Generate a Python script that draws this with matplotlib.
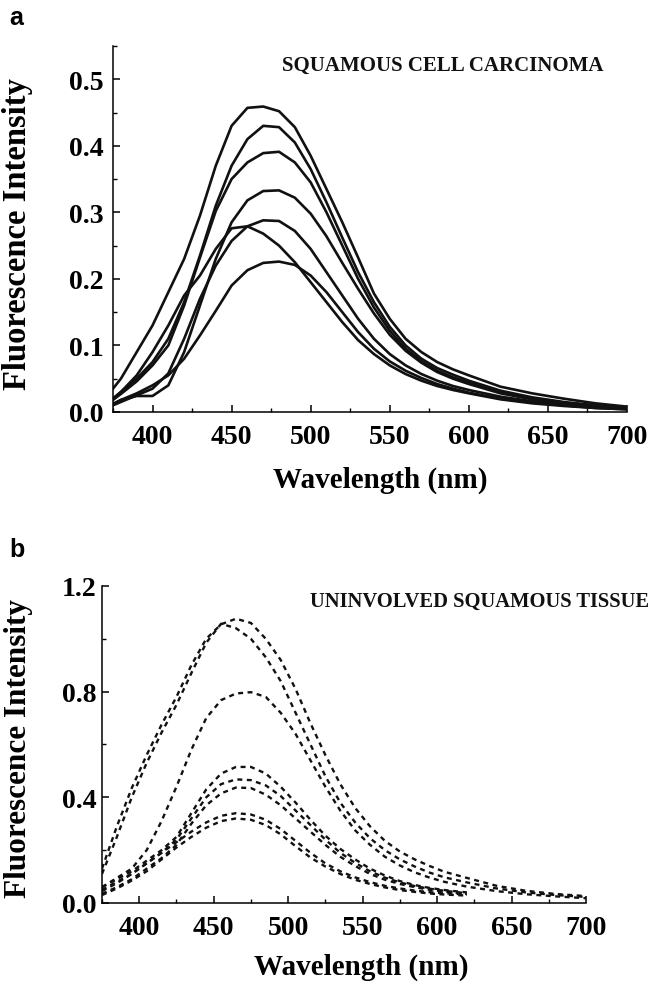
import matplotlib
matplotlib.use("Agg")
import matplotlib.pyplot as plt
from matplotlib.ticker import MultipleLocator, FormatStrFormatter

# ---------------- data: panel a (squamous cell carcinoma) ----------------
wl_a = [375, 380, 390, 400, 410, 420, 430, 440, 450, 460, 470, 480, 490, 500,
        510, 520, 530, 540, 550, 560, 570, 580, 590, 600, 620, 640, 660, 680, 700]

scc_1 = [0.035, 0.05, 0.09, 0.13, 0.18, 0.23, 0.295, 0.37, 0.43, 0.457, 0.459, 0.452, 0.428, 0.385,
         0.335, 0.285, 0.232, 0.178, 0.14, 0.11, 0.09, 0.075, 0.064, 0.055, 0.038, 0.028, 0.02, 0.013, 0.008]
scc_2 = [0.02, 0.03, 0.05, 0.075, 0.11, 0.165, 0.235, 0.31, 0.37, 0.41, 0.43, 0.428, 0.405, 0.365,
         0.315, 0.262, 0.21, 0.165, 0.128, 0.1, 0.08, 0.066, 0.056, 0.047, 0.032, 0.022, 0.015, 0.01, 0.006]
scc_3 = [0.018, 0.027, 0.046, 0.07, 0.1, 0.16, 0.232, 0.302, 0.35, 0.375, 0.389, 0.391, 0.375, 0.345,
         0.3, 0.25, 0.2, 0.157, 0.122, 0.095, 0.076, 0.062, 0.052, 0.044, 0.03, 0.021, 0.014, 0.009, 0.006]
scc_4 = [0.012, 0.018, 0.024, 0.024, 0.04, 0.09, 0.16, 0.23, 0.285, 0.318, 0.332, 0.333, 0.322, 0.298,
         0.264, 0.224, 0.185, 0.148, 0.116, 0.092, 0.074, 0.06, 0.05, 0.042, 0.028, 0.019, 0.013, 0.008, 0.005]
scc_5 = [0.01, 0.015, 0.025, 0.035, 0.058, 0.11, 0.17, 0.22, 0.257, 0.279, 0.288, 0.287, 0.272, 0.245,
         0.21, 0.175, 0.14, 0.11, 0.087, 0.07, 0.057, 0.047, 0.039, 0.033, 0.023, 0.016, 0.011, 0.007, 0.005]
scc_6 = [0.02, 0.03, 0.055, 0.09, 0.13, 0.175, 0.205, 0.245, 0.276, 0.279, 0.268, 0.25, 0.225, 0.195,
         0.165, 0.135, 0.108, 0.087, 0.07, 0.057, 0.047, 0.039, 0.033, 0.028, 0.019, 0.013, 0.009, 0.006, 0.004]
scc_7 = [0.012, 0.018, 0.028, 0.04, 0.055, 0.08, 0.115, 0.152, 0.19, 0.213, 0.224, 0.226, 0.221, 0.205,
         0.18, 0.15, 0.12, 0.095, 0.076, 0.062, 0.051, 0.042, 0.035, 0.029, 0.02, 0.014, 0.01, 0.006, 0.004]
scc_curves = [scc_1, scc_2, scc_3, scc_4, scc_5, scc_6, scc_7]

# ---------------- data: panel b (uninvolved squamous tissue) ----------------
wl_b = [375, 385, 395, 405, 415, 425, 435, 445, 455, 465, 475, 485, 495, 505,
        515, 525, 535, 545, 555, 565, 575, 585, 595, 605, 620, 640, 660, 680, 700]

ust_1 = [0.13, 0.29, 0.435, 0.56, 0.675, 0.78, 0.9, 1.0, 1.055, 1.076, 1.06, 1.0, 0.92, 0.81,
         0.68, 0.56, 0.45, 0.36, 0.29, 0.235, 0.195, 0.165, 0.14, 0.118, 0.095, 0.065, 0.046, 0.034, 0.026]
ust_2 = [0.11, 0.25, 0.4, 0.53, 0.645, 0.75, 0.87, 0.985, 1.057, 1.04, 1.0, 0.93, 0.84, 0.72,
         0.6, 0.48, 0.38, 0.305, 0.245, 0.2, 0.165, 0.138, 0.115, 0.097, 0.078, 0.055, 0.04, 0.03, 0.023]
ust_3 = [0.06, 0.095, 0.13, 0.2, 0.31, 0.44, 0.58, 0.7, 0.768, 0.793, 0.798, 0.78, 0.72, 0.64,
         0.54, 0.44, 0.35, 0.275, 0.22, 0.175, 0.142, 0.116, 0.096, 0.08, 0.062, 0.045, 0.033, 0.025, 0.018]
ust_4 = [0.06, 0.09, 0.12, 0.16, 0.2, 0.25, 0.34, 0.43, 0.49, 0.515, 0.515, 0.49, 0.44, 0.38,
         0.315, 0.255, 0.205, 0.165, 0.13, 0.104, 0.083, 0.068, 0.057, 0.049, 0.04]
ust_5 = [0.045, 0.075, 0.11, 0.15, 0.19, 0.24, 0.32, 0.4, 0.45, 0.468, 0.465, 0.445, 0.405, 0.35,
         0.295, 0.24, 0.19, 0.152, 0.12, 0.096, 0.078, 0.064, 0.054, 0.046, 0.037]
ust_6 = [0.035, 0.06, 0.09, 0.13, 0.17, 0.22, 0.3, 0.37, 0.415, 0.437, 0.435, 0.41, 0.37, 0.32,
         0.27, 0.22, 0.175, 0.14, 0.11, 0.088, 0.072, 0.06, 0.05, 0.043, 0.034]
ust_7 = [0.05, 0.08, 0.11, 0.15, 0.19, 0.23, 0.27, 0.305, 0.33, 0.34, 0.335, 0.315, 0.28, 0.235,
         0.19, 0.15, 0.12, 0.097, 0.079, 0.065, 0.055, 0.047, 0.041, 0.037, 0.032]
ust_8 = [0.03, 0.055, 0.085, 0.12, 0.165, 0.21, 0.25, 0.285, 0.31, 0.32, 0.315, 0.295, 0.26, 0.215,
         0.172, 0.138, 0.11, 0.088, 0.072, 0.059, 0.049, 0.042, 0.036, 0.032, 0.028]
ust_curves = [ust_1, ust_2, ust_3, ust_4, ust_5, ust_6, ust_7, ust_8]

x_ticks = [400, 450, 500, 550, 600, 650, 700]
ya_ticks = [0.0, 0.1, 0.2, 0.3, 0.4, 0.5]
yb_ticks = [0.0, 0.4, 0.8, 1.2]

# ---------------- figure ----------------
serif = ["Liberation Serif", "DejaVu Serif"]
sans = ["Liberation Sans", "DejaVu Sans"]

fig = plt.figure(figsize=(6.5, 9.87), dpi=100)
ax1 = fig.add_axes([0.1738, 0.5816, 0.7908, 0.3708])
ax2 = fig.add_axes([0.1569, 0.0841, 0.7446, 0.3212])


def style(ax, ymax, yticks, yminor, fmt, ypad):
    ax.set_xlim(375, 700)
    ax.set_ylim(0, ymax)
    for s in ("top", "right"):
        ax.spines[s].set_visible(False)
    for s in ("left", "bottom"):
        ax.spines[s].set_linewidth(1.1)
    ax.spines["left"].set_bounds(0, ymax)
    ax.spines["bottom"].set_bounds(375, 700)
    ax.set_xticks(x_ticks)
    ax.set_yticks(yticks)
    ax.xaxis.set_minor_locator(MultipleLocator(25))
    ax.yaxis.set_minor_locator(MultipleLocator(yminor))
    ax.yaxis.set_major_formatter(FormatStrFormatter(fmt))
    ax.tick_params(which="major", direction="in", length=5, width=1.1)
    ax.tick_params(which="minor", direction="in", length=3, width=1.0)
    ax.tick_params(axis="y", which="major", pad=ypad)
    ax.tick_params(axis="x", which="major", pad=9)
    for lab in ax.get_xticklabels() + ax.get_yticklabels():
        lab.set_fontfamily(serif)
        lab.set_fontweight("bold")
        lab.set_fontsize(20)


# panel a
for c in scc_curves:
    ax1.plot(wl_a, c, color="#111111", lw=1.9, solid_joinstyle="round")
style(ax1, 0.55, ya_ticks, 0.05, "%.1f", 7)
ax1.set_xlabel("Wavelength (nm)", fontfamily=serif, fontweight="bold", fontsize=21)
ax1.set_ylabel("Fluorescence Intensity", fontfamily=serif, fontweight="bold", fontsize=23.5)
ax1.xaxis.set_label_coords(0.52, -0.148)
ax1.yaxis.set_label_coords(-0.156, 0.49)
ax1.text(482, 0.522, "SQUAMOUS CELL CARCINOMA", fontfamily=serif, fontweight="bold",
         fontsize=15, ha="left", va="center", color="#111111")

# panel b
for c in ust_curves:
    ax2.plot(wl_b[:len(c)], c, color="#111111", lw=1.7, linestyle=(0, (2.1, 1.9)))
style(ax2, 1.2, yb_ticks, 0.2, "%.1f", 4)
ax2.set_xlabel("Wavelength (nm)", fontfamily=serif, fontweight="bold", fontsize=21)
ax2.set_ylabel("Fluorescence Intensity", fontfamily=serif, fontweight="bold", fontsize=22.5)
ax2.xaxis.set_label_coords(0.535, -0.158)
ax2.yaxis.set_label_coords(-0.143, 0.49)
ax2.text(515, 1.145, "UNINVOLVED SQUAMOUS TISSUE", fontfamily=serif, fontweight="bold",
         fontsize=14.8, ha="left", va="center", color="#111111")

# panel letters
fig.text(0.015, 0.982, "a", fontfamily=sans, fontweight="bold", fontsize=18, va="center")
fig.text(0.015, 0.443, "b", fontfamily=sans, fontweight="bold", fontsize=18, va="center")

fig.savefig("out.png", dpi=100)
